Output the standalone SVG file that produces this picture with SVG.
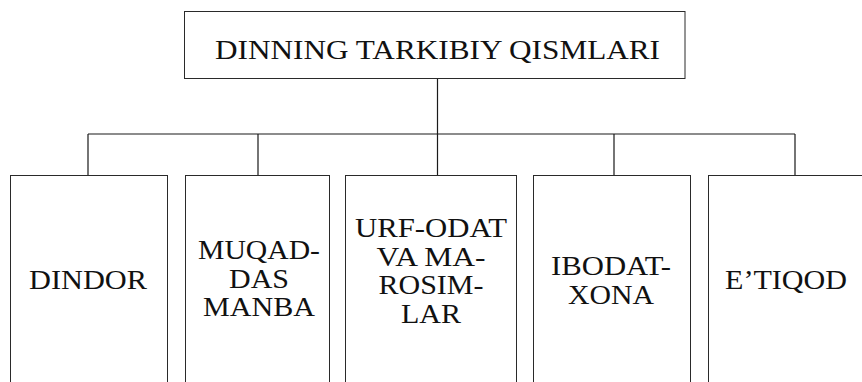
<svg xmlns="http://www.w3.org/2000/svg" width="862" height="382" viewBox="0 0 862 382">
<style>
.box{fill:#fff;stroke:#2a2a2a;stroke-width:1}
.conn{fill:none;stroke:#1a1a1a;stroke-width:1.2}
text{font-family:"Liberation Serif","Times New Roman",serif;font-size:27px;fill:#111;text-anchor:middle}
</style>
<rect width="862" height="382" fill="#fff"/>
<g id="connectors">
<path class="conn" d="M437.5 79V134M88 134H795M88 134V175.5M258 134V175.5M437.5 134V175.5M614 134V175.5M795 134V175.5"/>
</g>
<g id="root">
<rect class="box" x="184.5" y="11.5" width="500.5" height="67"/>
<text x="437.5" y="59" textLength="445" lengthAdjust="spacingAndGlyphs">DINNING TARKIBIY QISMLARI</text>
</g>
<g id="dindor">
<rect class="box" x="10.5" y="175.5" width="157" height="220"/>
<text x="88" y="289" textLength="118" lengthAdjust="spacingAndGlyphs">DINDOR</text>
</g>
<g id="muqaddas">
<rect class="box" x="185.5" y="175.5" width="144" height="220"/>
<text x="259" y="259" textLength="122" lengthAdjust="spacingAndGlyphs">MUQAD-</text>
<text x="259" y="287.5" textLength="60" lengthAdjust="spacingAndGlyphs">DAS</text>
<text x="259" y="316" textLength="112" lengthAdjust="spacingAndGlyphs">MANBA</text>
</g>
<g id="urfodat">
<rect class="box" x="345.5" y="175.5" width="171" height="220"/>
<text x="431" y="237" textLength="152" lengthAdjust="spacingAndGlyphs">URF-ODAT</text>
<text x="431" y="265.5" textLength="109" lengthAdjust="spacingAndGlyphs">VA MA-</text>
<text x="431" y="294" textLength="105" lengthAdjust="spacingAndGlyphs">ROSIM-</text>
<text x="431" y="322.5" textLength="60" lengthAdjust="spacingAndGlyphs">LAR</text>
</g>
<g id="ibodatxona">
<rect class="box" x="533.5" y="175.5" width="157" height="220"/>
<text x="611" y="275" textLength="120" lengthAdjust="spacingAndGlyphs">IBODAT-</text>
<text x="611" y="303.5" textLength="86" lengthAdjust="spacingAndGlyphs">XONA</text>
</g>
<g id="etiqod">
<rect class="box" x="708.5" y="175.5" width="170" height="220"/>
<text x="786" y="289" textLength="122" lengthAdjust="spacingAndGlyphs">E’TIQOD</text>
</g>
</svg>
